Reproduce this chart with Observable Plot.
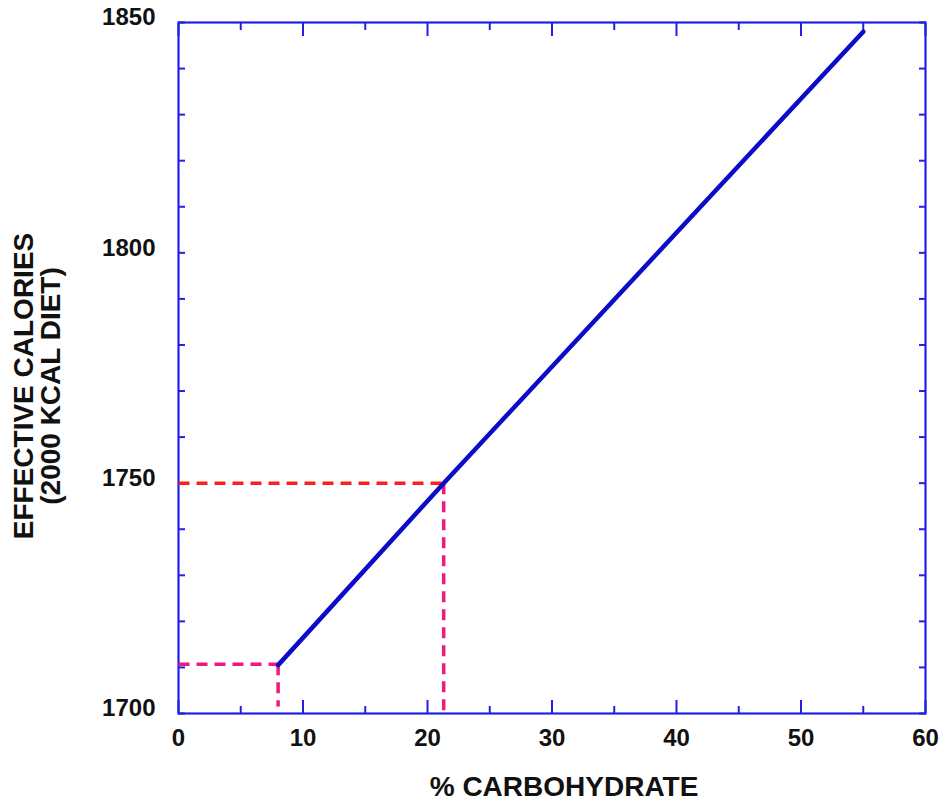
<!DOCTYPE html>
<html>
<head>
<meta charset="utf-8">
<script src="https://cdn.jsdelivr.net/npm/d3@7"></script>
<script src="https://cdn.jsdelivr.net/npm/@observablehq/plot@0.6"></script>
<style>
  html, body { margin: 0; padding: 0; background: #ffffff; }
  #chart svg { display: block; }
</style>
</head>
<body>
<div id="chart"></div>
<script>
// ---- data ----
const xDomain = [0, 60];
const yDomain = [1700, 1850];
const xMajorTicks = [0, 10, 20, 30, 40, 50, 60];
const xMinorTicks = [5, 15, 25, 35, 45, 55];
const yTickLabels = [1700, 1750, 1800, 1850];
const yTicks = [1700, 1710, 1720, 1730, 1740, 1750, 1760, 1770, 1780, 1790, 1800, 1810, 1820, 1830, 1840, 1850];
const xTitle = "% CARBOHYDRATE";
const yTitle = "EFFECTIVE CALORIES\n(2000 KCAL DIET)";

// main line: % carbohydrate -> effective calories
const carbPct = [8, 21.3, 55];
const effCalories = [1710.5, 1750, 1848];

// dashed guide segments
const guideX1 = [0, 21.3, 0, 8];
const guideY1 = [1750, 1750, 1710.7, 1710.7];
const guideX2 = [21.3, 21.3, 8, 8];
const guideY2 = [1750, 1700, 1710.7, 1701.5];
const guideKind = ["red", "pink", "pink", "pink"];

// ---- build ----
const blue = "#2020e6";
const lineBlue = "#0c0cc8";
const lineData = carbPct.map((x, i) => ({x, y: effCalories[i]}));
const guides = guideX1.map((x1, i) => ({x1, y1: guideY1[i], x2: guideX2[i], y2: guideY2[i], kind: guideKind[i]}));
const guideColor = {red: "#ff1e1e", pink: "#f0197c"};

const chart = Plot.plot({
  width: 942,
  height: 802,
  marginLeft: 178,
  marginRight: 17,
  marginTop: 22,
  marginBottom: 89,
  style: {fontFamily: "'Liberation Sans', Arial, Helvetica, sans-serif", fontWeight: "bold", background: "#ffffff"},
  x: {domain: xDomain},
  y: {domain: yDomain},
  marks: [
    // inward ticks
    Plot.axisX(xMajorTicks, {anchor: "bottom", tickSize: -13, tickFormat: () => "", label: null, stroke: blue, strokeWidth: 2}),
    Plot.axisX(xMinorTicks, {anchor: "bottom", tickSize: -7, tickFormat: () => "", label: null, stroke: blue, strokeWidth: 2}),
    Plot.axisX(xMajorTicks, {anchor: "top", tickSize: -13, tickFormat: () => "", label: null, stroke: blue, strokeWidth: 2}),
    Plot.axisX(xMinorTicks, {anchor: "top", tickSize: -7, tickFormat: () => "", label: null, stroke: blue, strokeWidth: 2}),
    Plot.axisY(yTicks, {anchor: "left", tickSize: -7, tickFormat: () => "", label: null, stroke: blue, strokeWidth: 2}),
    Plot.axisY(yTicks, {anchor: "right", tickSize: -7, tickFormat: () => "", label: null, stroke: blue, strokeWidth: 2}),
    // tick labels
    Plot.axisX(xMajorTicks, {anchor: "bottom", tickSize: 0, tickPadding: 15, label: null, fontSize: 24, fill: "#111", tickFormat: d => String(d)}),
    Plot.axisY(yTickLabels, {anchor: "left", tickSize: 0, tickPadding: 23, dy: -5, label: null, fontSize: 24, fill: "#111", tickFormat: d => String(d)}),
    // frame
    Plot.frame({stroke: blue, strokeWidth: 2.2}),
    // dashed guides
    Plot.link(guides, {x1: "x1", y1: "y1", x2: "x2", y2: "y2", stroke: d => guideColor[d.kind], strokeWidth: 3.5, strokeDasharray: "11,7"}),
    // main line
    Plot.line(lineData, {x: "x", y: "y", stroke: lineBlue, strokeWidth: 4.5}),
    // titles
    Plot.text([xTitle], {frameAnchor: "bottom", dy: 74, dx: 12, fontSize: 28, fontWeight: "bold", lineAnchor: "middle", fill: "#111"}),
    Plot.text([yTitle], {frameAnchor: "left", rotate: -90, dx: -141, dy: 18, fontSize: 28, fontWeight: "bold", lineHeight: 0.97, lineAnchor: "middle", textAnchor: "middle", fill: "#111"})
  ]
});
document.getElementById("chart").append(chart);
</script>
</body>
</html>
